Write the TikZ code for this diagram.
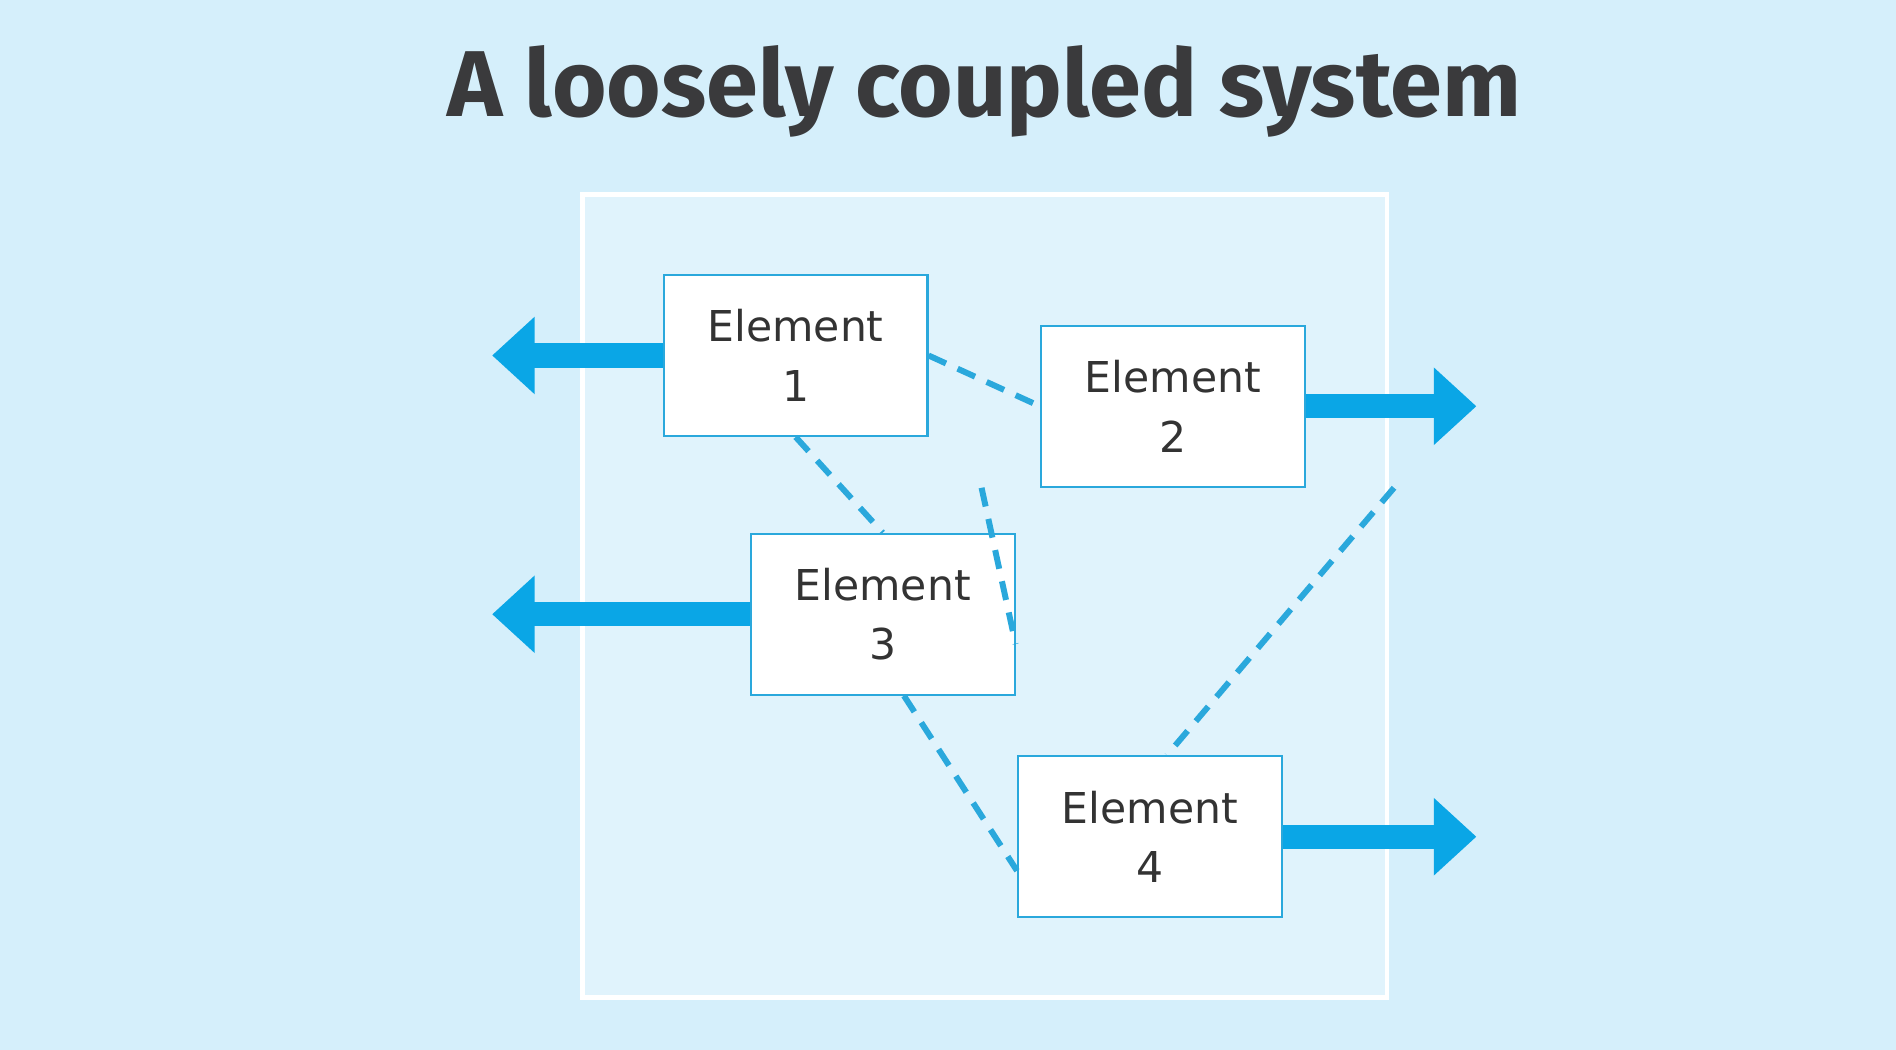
\documentclass[tikz,border=0pt]{standalone}
\usepackage{fontspec}
\setmainfont{DejaVu Sans}
\newfontfamily\titlefont{Fira Sans}
\usetikzlibrary{arrows.meta}
\definecolor{bg}{HTML}{D5EFFB}
\definecolor{inner}{HTML}{E0F3FC}
\definecolor{arr}{HTML}{0AA6E6}
\definecolor{linkblue}{HTML}{2AA8DC}
\definecolor{titlegray}{HTML}{3A3A3C}
\tikzset{
    elem/.style={draw=linkblue, line width=0.5pt, fill=white, minimum width=2.18cm, minimum height=1.33cm, align=center, font=\fontsize{10pt}{14pt}\selectfont, text=black!80},
    link/.style={draw=linkblue, line width=1.4pt, dash pattern=on 4.5pt off 3pt},
    fat arrow/.style={draw=arr, line width=5.7pt, -{Triangle[length=10pt,width=17.6pt,fill=arr]}}
}
\begin{document}
\begin{tikzpicture}[x=0.01cm, y=-0.01cm]
    \fill[bg] (0,0) rectangle (1568,868);
    \useasboundingbox (0,0) rectangle (1568,868);
    \draw[white, line width=1.1pt, fill=inner] (482,161) rectangle (1147,825);

    \node[font=\titlefont\bfseries\fontsize{22pt}{26pt}\selectfont, text=titlegray] (title) at (814,76) {A loosely coupled system};

    \node[elem] (e1) at (658,294) {Element\\1};
    \node[elem] (e2) at (970,336) {Element\\2};
    \node[elem] (e3) at (730,508) {Element\\3};
    \node[elem] (e4) at (951,692) {Element\\4};

    \coordinate (o1) at (407,294);
    \coordinate (o2) at (1221,336);
    \coordinate (o3) at (407,508);
    \coordinate (o4) at (1221,692);

    \draw[fat arrow] (e1.west) -- (o1);
    \draw[fat arrow] (e2.east) -- (o2);
    \draw[fat arrow] (e3.west) -- (o3);
    \draw[fat arrow] (e4.east) -- (o4);

    \draw[link] (e1.east) -- (e2.west);
    \draw[link] (e1.south) -- (e3.north);
    \draw[link] ([xshift=-45]e2.south) -- ([yshift=-7]e3.east);
    \draw[link] ([xshift=52]e2.south) -- ([xshift=4]e4.north);
    \draw[link] ([xshift=5]e3.south) -- ([yshift=-8]e4.west);
\end{tikzpicture}
\end{document}
